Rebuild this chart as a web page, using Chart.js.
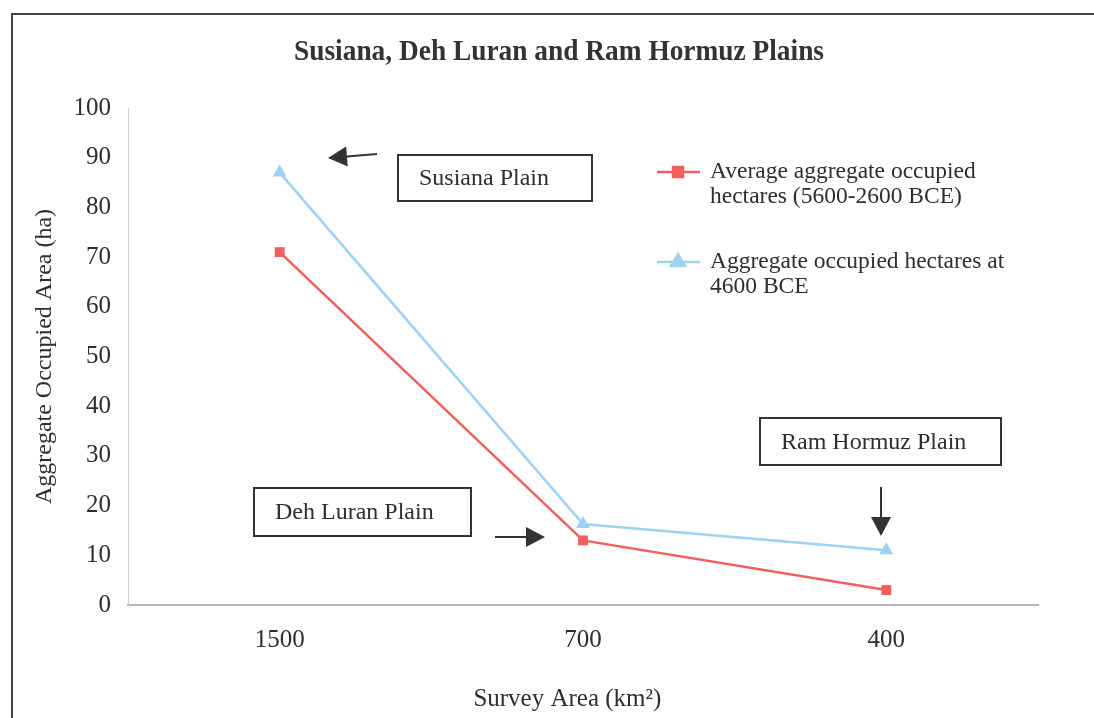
<!DOCTYPE html>
<html>
<head>
<meta charset="utf-8">
<title>Susiana, Deh Luran and Ram Hormuz Plains</title>
<script src="https://cdn.jsdelivr.net/npm/chart.js@4.4.1/dist/chart.umd.min.js"></script>
<style>
  html, body { margin: 0; padding: 0; background: #fff; }
  canvas { display: block; }
</style>
</head>
<body>
<canvas id="plainsChart" width="1094" height="718"></canvas>
<script>
// survey area categories (km²)
var surveyAreas = ['1500', '700', '400'];
// average aggregate occupied hectares 5600-2600 BCE
var averageHa = [71, 13, 3];
// aggregate occupied hectares at 4600 BCE
var at4600Ha = [87, 16.3, 11];
var yTicks = [0, 10, 20, 30, 40, 50, 60, 70, 80, 90, 100];

var redColor = '#f25f5f';
var blueColor = '#9dd2f2';
var textColor = '#2e2e2e';
var serif = '"Liberation Serif", "Times New Roman", serif';

document.addEventListener("DOMContentLoaded", function () {
    var ctx = document.getElementById('plainsChart').getContext('2d');

    // draws frame, title, legend and the text boxes with arrows
    var overlay = {
        id: 'overlay',
        beforeDraw: function (chart) {
            var c = chart.ctx;
            c.save();
            c.fillStyle = '#fff';
            c.fillRect(0, 0, chart.width, chart.height);
            c.restore();
        },
        afterDraw: function (chart) {
            var c = chart.ctx;
            c.save();

            // outer frame
            c.strokeStyle = '#444';
            c.lineWidth = 2;
            c.strokeRect(12, 14, chart.width + 20, chart.height + 20);

            // title (condensed like the original)
            var title = 'Susiana, Deh Luran and Ram Hormuz Plains';
            c.fillStyle = '#333';
            c.font = 'bold 30px ' + serif;
            c.textAlign = 'center';
            c.textBaseline = 'middle';
            var tw = c.measureText(title).width;
            c.save();
            c.translate(559, 52);
            c.scale(530 / tw, 1);
            c.fillText(title, 0, 0);
            c.restore();

            // legend
            c.textAlign = 'left';
            c.font = '23.5px ' + serif;
            var legendRows = [
                { ds: 0, y: 172, lines: ['Average aggregate occupied', 'hectares (5600-2600 BCE)'] },
                { ds: 1, y: 262, lines: ['Aggregate occupied hectares at', '4600 BCE'] }
            ];
            legendRows.forEach(function (row) {
                var ds = chart.data.datasets[row.ds];
                c.strokeStyle = ds.borderColor;
                c.lineWidth = 2.5;
                c.beginPath();
                c.moveTo(657, row.y);
                c.lineTo(700, row.y);
                c.stroke();
                Chart.helpers.drawPoint(c, {
                    pointStyle: ds.pointStyle,
                    radius: ds.pointRadius,
                    borderWidth: 1
                }, 678, row.y);
                c.fillStyle = ds.backgroundColor;
                c.fill();
                c.fillStyle = textColor;
                row.lines.forEach(function (line, i) {
                    c.fillText(line, 710, row.y + i * 25);
                });
            });

            // annotation boxes
            var boxes = [
                { text: 'Susiana Plain', x: 398, y: 155, w: 194, h: 46 },
                { text: 'Deh Luran Plain', x: 254, y: 488, w: 217, h: 48 },
                { text: 'Ram Hormuz Plain', x: 760, y: 418, w: 241, h: 47 }
            ];
            c.strokeStyle = '#333';
            c.lineWidth = 2;
            c.font = '24px ' + serif;
            boxes.forEach(function (b) {
                c.strokeRect(b.x, b.y, b.w, b.h);
                c.fillStyle = textColor;
                c.fillText(b.text, b.x + 21, b.y + b.h / 2 + 1);
            });

            // arrows
            var arrows = [
                [377, 154, 328, 158],
                [495, 537, 545, 537],
                [881, 487, 881, 536]
            ];
            arrows.forEach(function (a) {
                var ang = Math.atan2(a[3] - a[1], a[2] - a[0]);
                var head = 19, half = 10;
                var bx = a[2] - head * Math.cos(ang);
                var by = a[3] - head * Math.sin(ang);
                c.strokeStyle = '#333';
                c.lineWidth = 2;
                c.beginPath();
                c.moveTo(a[0], a[1]);
                c.lineTo(bx, by);
                c.stroke();
                c.fillStyle = '#333';
                c.beginPath();
                c.moveTo(a[2], a[3]);
                c.lineTo(bx + half * Math.sin(ang), by - half * Math.cos(ang));
                c.lineTo(bx - half * Math.sin(ang), by + half * Math.cos(ang));
                c.closePath();
                c.fill();
            });

            c.restore();
        }
    };

    var plainsChart = new Chart(ctx, {
        type: 'line',
        data: {
            labels: surveyAreas,
            datasets: [
                {
                    label: 'Average aggregate occupied hectares (5600-2600 BCE)',
                    data: averageHa,
                    borderColor: redColor,
                    backgroundColor: redColor,
                    borderWidth: 2.5,
                    pointStyle: 'rect',
                    pointRadius: 7,
                    pointBorderWidth: 0,
                    tension: 0,
                    fill: false
                },
                {
                    label: 'Aggregate occupied hectares at 4600 BCE',
                    data: at4600Ha,
                    borderColor: blueColor,
                    backgroundColor: blueColor,
                    borderWidth: 2.5,
                    pointStyle: 'triangle',
                    pointRadius: 8,
                    pointBorderWidth: 0,
                    tension: 0,
                    fill: false
                }
            ]
        },
        options: {
            responsive: false,
            animation: false,
            layout: {
                padding: { top: 108, left: 20, right: 56, bottom: 0 }
            },
            plugins: {
                legend: { display: false },
                title: { display: false },
                tooltip: { enabled: false }
            },
            scales: {
                x: {
                    offset: true,
                    grid: { display: false, drawTicks: false },
                    border: { display: true, color: '#b5b5b5', width: 2 },
                    ticks: {
                        color: textColor,
                        padding: 20,
                        font: { family: serif, size: 25 }
                    },
                    title: {
                        display: true,
                        // trailing spaces nudge the centred title left, as in the original
                        text: 'Survey Area (km²)\u00a0\u00a0\u00a0\u00a0\u00a0',
                        color: textColor,
                        padding: { top: 4, bottom: 4 },
                        font: { family: serif, size: 25 }
                    },
                    afterFit: function (scale) { scale.height = 113; }
                },
                y: {
                    min: 0,
                    max: 100,
                    afterBuildTicks: function (scale) {
                        scale.ticks = yTicks.map(function (v) { return { value: v }; });
                    },
                    grid: { display: false, drawTicks: false },
                    border: { display: true, color: '#cfcfcf', width: 1, dash: [3, 3] },
                    ticks: {
                        color: textColor,
                        padding: 17,
                        font: { family: serif, size: 25 }
                    },
                    title: {
                        display: true,
                        text: 'Aggregate Occupied Area (ha)',
                        color: textColor,
                        padding: { top: 10, bottom: 0 },
                        font: { family: serif, size: 24 }
                    },
                    afterFit: function (scale) { scale.width = 108; }
                }
            }
        },
        plugins: [overlay]
    });
});
</script>
</body>
</html>
